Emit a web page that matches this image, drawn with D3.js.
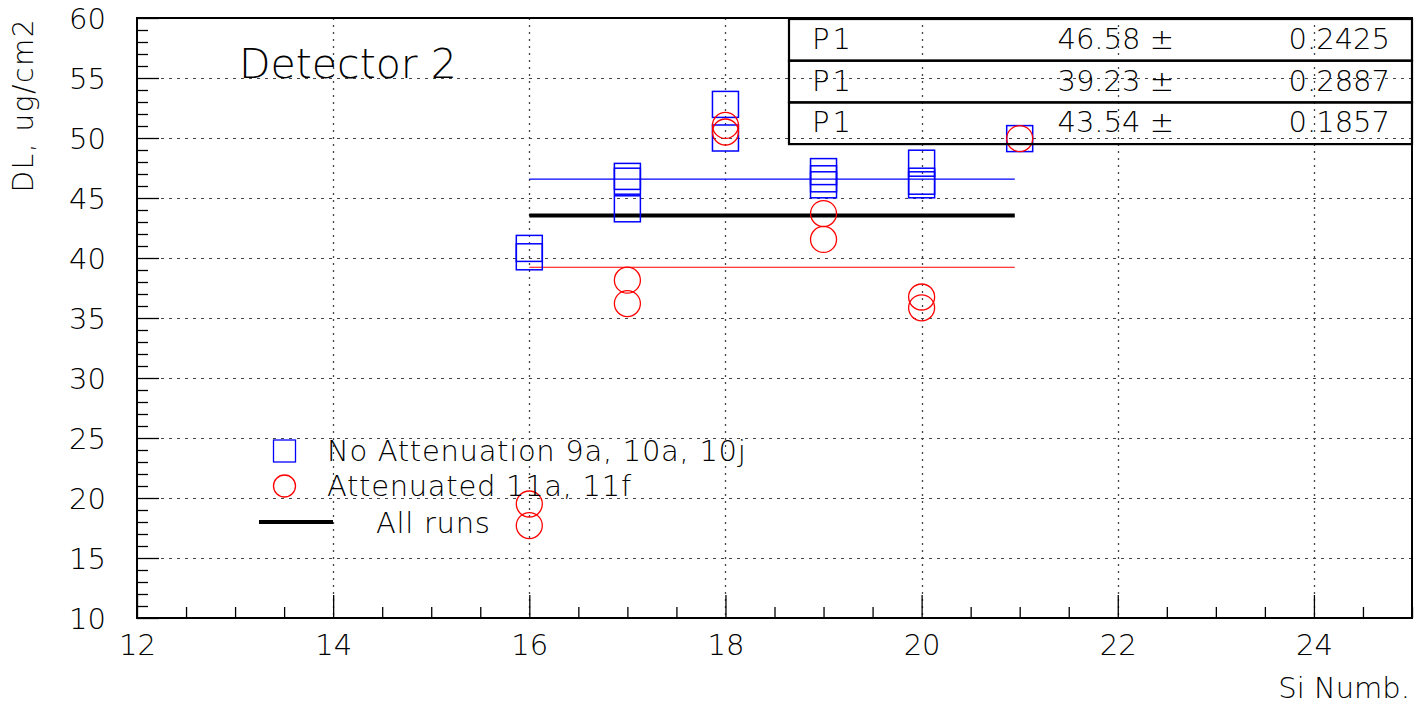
<!DOCTYPE html>
<html><head><meta charset="utf-8">
<script src="https://cdn.jsdelivr.net/npm/d3@7"></script>
<style>
html,body{margin:0;padding:0;background:#fff;}
svg text{font-family:"DejaVu Sans",sans-serif;font-weight:200;fill:#000;}
</style></head>
<body>
<svg id="c" width="1423" height="707"></svg>
<script>
// ---- data ----
const noAttX = [16, 16, 17, 17, 17, 18, 18, 19, 19, 19, 20, 20, 20, 21];
const noAttY = [40.8, 40.1, 46.8, 46.4, 44.1, 52.8, 50.0, 47.2, 46.6, 46.1, 47.9, 46.4, 46.1, 49.95];
const attX = [16, 16, 17, 17, 18, 18, 19, 19, 20, 20, 21];
const attY = [19.5, 17.7, 38.15, 36.2, 51.05, 50.5, 43.7, 41.55, 36.75, 35.85, 49.95];
const fitNames = ["P1", "P1", "P1"];
const fitValues = [46.58, 39.23, 43.54];
const fitErrors = ["0.2425", "0.2887", "0.1857"];
const fitColors = ["#0000ff", "#ff0000", "#000000"];
const fitRange = [16, 20.95];
const xTicks = [12, 14, 16, 18, 20, 22, 24];
const yTicks = [10, 15, 20, 25, 30, 35, 40, 45, 50, 55, 60];
const legendLabels = ["No Attenuation 9a, 10a, 10j", "Attenuated 11a, 11f", "All runs"];
const title = "Detector 2";
const xTitle = "Si Numb.";
const yTitle = "DL, ug/cm2";

// ---- layout ----
const L = 137, R = 1412, T = 18, B = 618;
const svg = d3.select("#c");
const x = d3.scaleLinear().domain([12, 25]).range([L, R]);
const y = d3.scaleLinear().domain([10, 60]).range([B, T]);

// grid
const g = svg.append("g");
g.selectAll("line.hg").data(yTicks.filter(v => v > 10 && v < 60)).enter().append("line")
  .attr("x1", L).attr("x2", R).attr("y1", d => Math.round(y(d)) + 0.5).attr("y2", d => Math.round(y(d)) + 0.5)
  .attr("stroke", "#444").attr("stroke-width", 1).attr("stroke-dasharray", "3,5");
g.selectAll("line.vg").data(xTicks.filter(v => v > 12)).enter().append("line")
  .attr("y1", T).attr("y2", B).attr("x1", d => Math.round(x(d)) + 0.5).attr("x2", d => Math.round(x(d)) + 0.5)
  .attr("stroke", "#444").attr("stroke-width", 1.3).attr("stroke-dasharray", "2,5");

// axes
const minorX = d3.range(12, 25.01, 0.5).filter(v => !xTicks.includes(v));
const minorY = d3.range(10, 60.01, 1).filter(v => !yTicks.includes(v));
const ax = svg.append("g").attr("transform", `translate(0,${B})`);
ax.call(d3.axisBottom(x).tickValues(minorX).tickSize(-11).tickFormat(""));
ax.append("g").call(d3.axisBottom(x).tickValues(xTicks).tickSize(-23).tickFormat(d3.format("d")));
ax.selectAll(".domain").remove();
ax.selectAll("line").attr("stroke", "#000").attr("stroke-width", 1.3);
ax.selectAll("text").attr("y", 37).attr("dy", null).style("font-size", "29px").attr("fill", "#000");

const ay = svg.append("g").attr("transform", `translate(${L},0)`);
ay.call(d3.axisLeft(y).tickValues(minorY).tickSize(-11).tickFormat(""));
ay.append("g").call(d3.axisLeft(y).tickValues(yTicks).tickSize(-22).tickFormat(d3.format("d")));
ay.selectAll(".domain").remove();
ay.selectAll("line").attr("stroke", "#000").attr("stroke-width", 1.3);
ay.selectAll("text").attr("x", -31).attr("dy", "0.36em").style("font-size", "29px").attr("fill", "#000");

// frame
svg.append("rect").attr("x", L).attr("y", T).attr("width", R - L).attr("height", B - T)
  .attr("fill", "none").attr("stroke", "#000").attr("stroke-width", 2);

// fit lines
fitValues.forEach((v, i) => {
  svg.append("line").attr("x1", x(fitRange[0])).attr("x2", x(fitRange[1]))
    .attr("y1", y(v)).attr("y2", y(v)).attr("stroke", fitColors[i])
    .attr("stroke-width", i === 2 ? 4 : 1.2);
});

// markers
const ms = 26;
svg.append("g").selectAll("rect").data(noAttX.map((d, i) => [d, noAttY[i]])).enter().append("rect")
  .attr("x", d => x(d[0]) - ms / 2).attr("y", d => y(d[1]) - ms / 2)
  .attr("width", ms).attr("height", ms).attr("fill", "none").attr("stroke", "#0000ff").attr("stroke-width", 1.5);
svg.append("g").selectAll("circle").data(attX.map((d, i) => [d, attY[i]])).enter().append("circle")
  .attr("cx", d => x(d[0])).attr("cy", d => y(d[1])).attr("r", ms / 2)
  .attr("fill", "none").attr("stroke", "#ff0000").attr("stroke-width", 1.3);

// stats boxes
const bx0 = 789, bx1 = 1412, by0 = 19, rowH = 41.7;
fitNames.forEach((n, i) => {
  const top = by0 + i * rowH;
  svg.append("rect").attr("x", bx0).attr("y", top).attr("width", bx1 - bx0).attr("height", rowH)
    .attr("fill", "none").attr("stroke", "#000").attr("stroke-width", 2.2);
  const base = top + 30;
  svg.append("text").attr("x", 812).attr("y", base).style("font-size", "29px").style("letter-spacing", "3px").text(n);
  svg.append("text").attr("x", 1174).attr("y", base).attr("text-anchor", "end").style("font-size", "29px")
    .text(d3.format(".2f")(fitValues[i]) + " \u00b1");
  svg.append("text").attr("x", 1390).attr("y", base).attr("text-anchor", "end").style("font-size", "29px").text(fitErrors[i]);
});

// legend
const lg = svg.append("g");
lg.append("rect").attr("x", 284.5 - 11).attr("y", 451 - 11).attr("width", 22).attr("height", 22)
  .attr("fill", "none").attr("stroke", "#0000ff").attr("stroke-width", 1.3);
lg.append("circle").attr("cx", 284.5).attr("cy", 486).attr("r", 11)
  .attr("fill", "none").attr("stroke", "#ff0000").attr("stroke-width", 1.3);
lg.append("line").attr("x1", 259).attr("x2", 333).attr("y1", 522).attr("y2", 522)
  .attr("stroke", "#000").attr("stroke-width", 4);
lg.append("text").attr("x", 327).attr("y", 461).style("font-size", "29px").style("letter-spacing", "0.7px").text(legendLabels[0]);
lg.append("text").attr("x", 327).attr("y", 496).style("font-size", "29px").style("letter-spacing", "0.7px").text(legendLabels[1]);
lg.append("text").attr("x", 376).attr("y", 533).style("font-size", "29px").style("letter-spacing", "0.7px").text(legendLabels[2]);

// titles
svg.append("text").attr("x", 239).attr("y", 78).style("font-size", "41px").text(title);
svg.append("text").attr("x", 1410).attr("y", 698).attr("text-anchor", "end").style("font-size", "29px").text(xTitle);
svg.append("text").attr("transform", "translate(33,18) rotate(-90)").attr("text-anchor", "end")
  .style("font-size", "28px").style("letter-spacing", "1.5px").text(yTitle);
</script>
</body></html>
